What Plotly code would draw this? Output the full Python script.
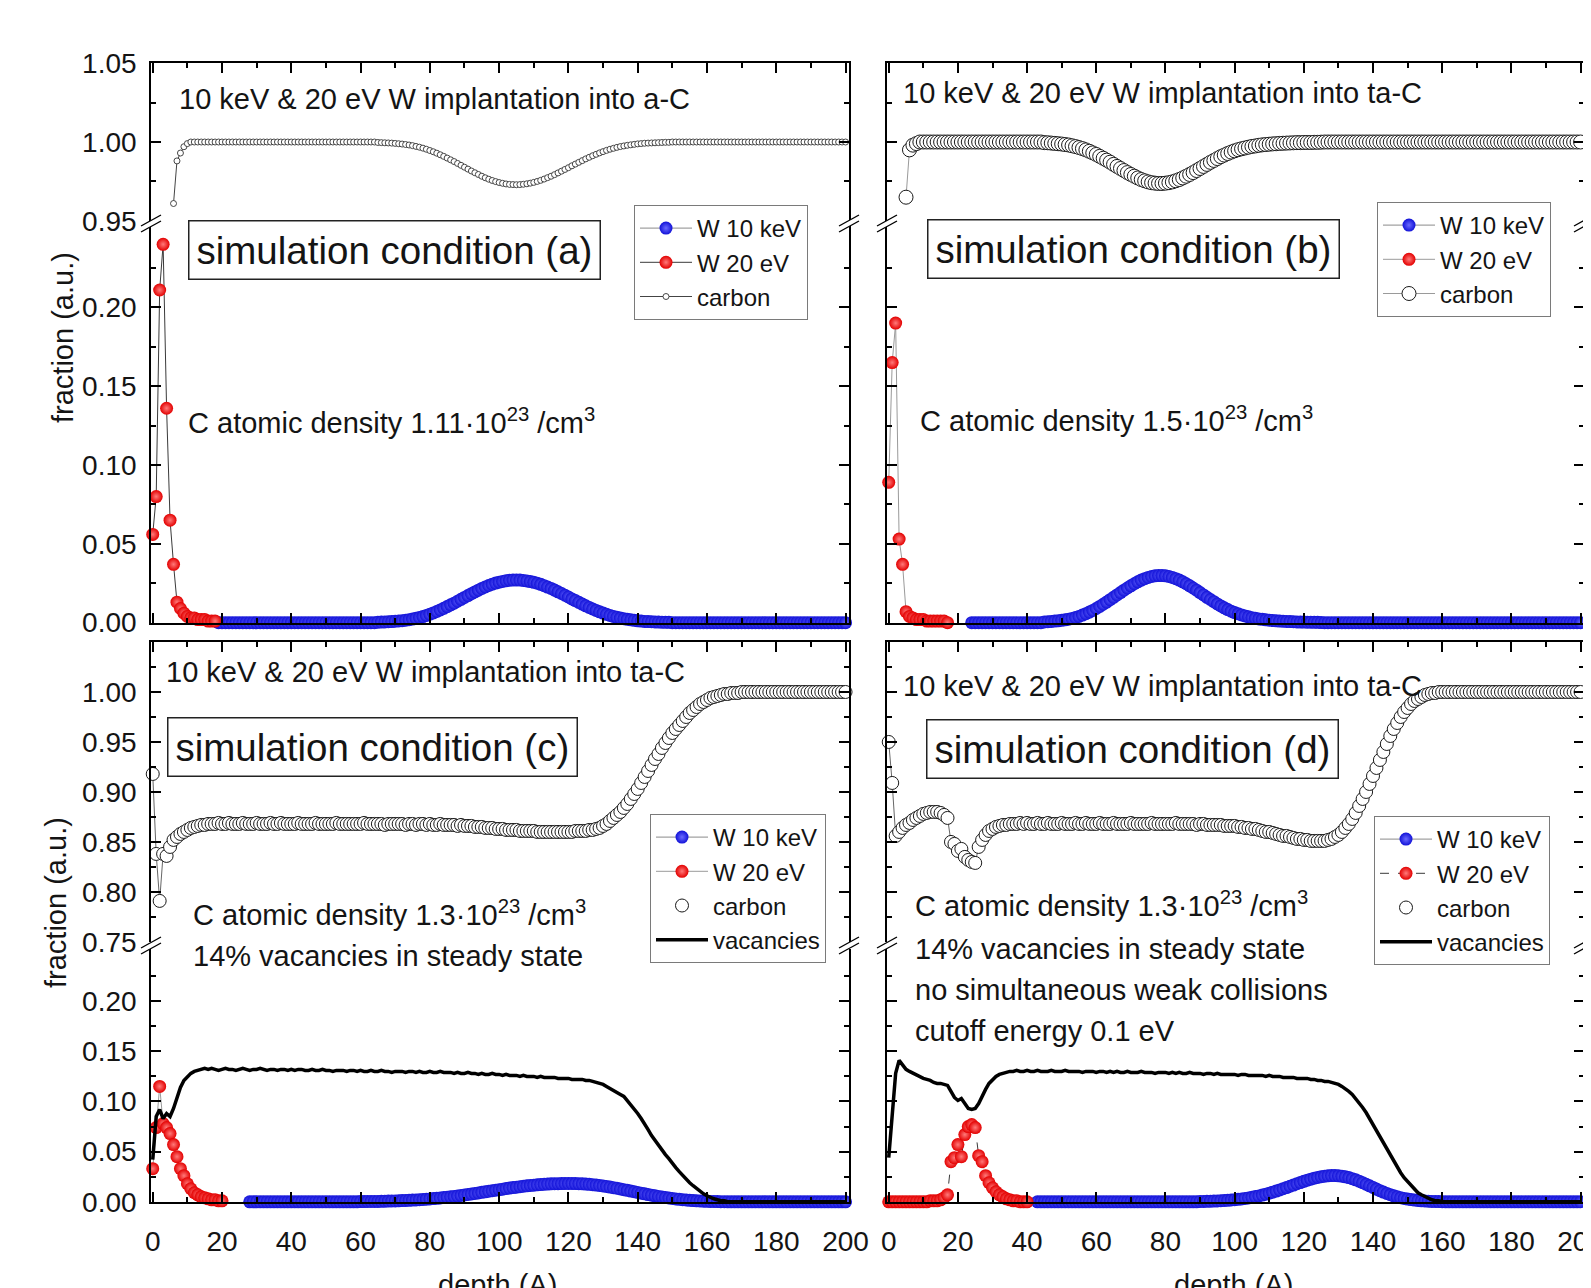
import numpy as np
import plotly.graph_objects as go

# ---------------------------------------------------------------------------
# DATA  (fractions; depth bins of 1 Angstrom)
# ---------------------------------------------------------------------------
# ----- panel (a) -----
A_W20_START = 0
A_W20 = [0.056, 0.080, 0.211, 0.240, 0.136, 0.065, 0.037, 0.013, 0.009, 0.006,
         0.004, 0.003, 0.003, 0.002, 0.002, 0.002, 0.001, 0.001, 0.001]
A_W10_START = 19
A_W10 = [0, 0, 0, 0, 0, 0, 0, 0, 0, 0,
         0, 0, 0, 0, 0, 0, 0, 0, 0, 0,
         0, 0, 0, 0, 0, 0, 0, 0, 0, 0,
         0, 0, 0, 0, 0, 0, 0, 0, 0, 0,
         0, 0, 0, 0, 0, 0,
         0.0003, 0.0004, 0.0005, 0.0006, 0.0007, 0.0009, 0.0011, 0.0013, 0.0016, 0.0019,
         0.0023, 0.0028, 0.0033, 0.0039, 0.0046, 0.0054, 0.0062, 0.0071, 0.0081, 0.0091,
         0.0102, 0.0113, 0.0124, 0.0136, 0.0148, 0.0160, 0.0172, 0.0184, 0.0195, 0.0206,
         0.0217, 0.0227, 0.0236, 0.0244, 0.0251, 0.0257, 0.0262, 0.0266, 0.0269, 0.0270,
         0.0271, 0.0270, 0.0268, 0.0265, 0.0261, 0.0256, 0.0250, 0.0243, 0.0235, 0.0226,
         0.0217, 0.0207, 0.0196, 0.0185, 0.0174, 0.0163, 0.0151, 0.0140, 0.0129, 0.0118,
         0.0107, 0.0097, 0.0087, 0.0078, 0.0069, 0.0061, 0.0053, 0.0046, 0.0040, 0.0034,
         0.0029, 0.0025, 0.0021, 0.0018, 0.0015, 0.0012, 0.0010, 0.0008, 0.0007, 0.0006,
         0.0005, 0.0004, 0.0003, 0.0002, 0.0002,
         0, 0, 0, 0, 0, 0, 0, 0, 0, 0,
         0, 0, 0, 0, 0, 0, 0, 0, 0, 0,
         0, 0, 0, 0, 0, 0, 0, 0, 0, 0,
         0, 0, 0, 0, 0, 0, 0, 0, 0, 0,
         0, 0, 0, 0, 0, 0, 0, 0, 0, 0, 0]
A_C_START = 6
A_CARBON = [0.961, 0.988, 0.993, 0.997, 0.999,
            1, 1, 1, 1, 1, 1, 1, 1, 1, 1,
            1, 1, 1, 1, 1, 1, 1, 1, 1, 1,
            1, 1, 1, 1, 1, 1, 1, 1, 1, 1,
            1, 1, 1, 1, 1, 1, 1, 1, 1, 1,
            1, 1, 1, 1, 1, 1, 1, 1, 1, 1,
            1, 1, 1, 1,
            0.9997, 0.9996, 0.9995, 0.9994, 0.9993, 0.9991, 0.9989, 0.9987, 0.9984, 0.9981,
            0.9977, 0.9972, 0.9967, 0.9961, 0.9954, 0.9946, 0.9938, 0.9929, 0.9919, 0.9909,
            0.9898, 0.9887, 0.9876, 0.9864, 0.9852, 0.9840, 0.9828, 0.9816, 0.9805, 0.9794,
            0.9783, 0.9773, 0.9764, 0.9756, 0.9749, 0.9743, 0.9738, 0.9734, 0.9731, 0.9730,
            0.9729, 0.9730, 0.9732, 0.9735, 0.9739, 0.9744, 0.9750, 0.9757, 0.9765, 0.9774,
            0.9783, 0.9793, 0.9804, 0.9815, 0.9826, 0.9837, 0.9849, 0.9860, 0.9871, 0.9882,
            0.9893, 0.9903, 0.9913, 0.9922, 0.9931, 0.9939, 0.9947, 0.9954, 0.9960, 0.9966,
            0.9971, 0.9975, 0.9979, 0.9982, 0.9985, 0.9988, 0.9990, 0.9992, 0.9993, 0.9994,
            0.9995, 0.9996, 0.9997, 0.9998, 0.9998,
            1, 1, 1, 1, 1, 1, 1, 1, 1, 1,
            1, 1, 1, 1, 1, 1, 1, 1, 1, 1,
            1, 1, 1, 1, 1, 1, 1, 1, 1, 1,
            1, 1, 1, 1, 1, 1, 1, 1, 1, 1,
            1, 1, 1, 1, 1, 1, 1, 1, 1, 1, 1]

# ----- panel (b) -----
B_W20_START = 0
B_W20 = [0.089, 0.165, 0.190, 0.053, 0.037, 0.007, 0.004, 0.003, 0.002, 0.002,
         0.002, 0.001, 0.001, 0.001, 0.001, 0.001, 0.001, 0.000]
B_W10_START = 24
B_W10 = [0, 0, 0, 0, 0, 0, 0, 0, 0, 0,
         0, 0, 0, 0, 0, 0, 0, 0, 0, 0, 0,
         0.0005, 0.0006, 0.0008, 0.0010, 0.0012, 0.0015, 0.0018, 0.0022, 0.0027, 0.0033,
         0.0040, 0.0048, 0.0057, 0.0067, 0.0078, 0.0090, 0.0103, 0.0117, 0.0131, 0.0146,
         0.0161, 0.0176, 0.0191, 0.0206, 0.0220, 0.0234, 0.0247, 0.0259, 0.0270, 0.0279,
         0.0287, 0.0293, 0.0297, 0.0299, 0.0299, 0.0297, 0.0293, 0.0287, 0.0279, 0.0270,
         0.0259, 0.0247, 0.0234, 0.0220, 0.0206, 0.0191, 0.0176, 0.0161, 0.0147, 0.0133,
         0.0119, 0.0106, 0.0094, 0.0083, 0.0073, 0.0064, 0.0056, 0.0049, 0.0043, 0.0037,
         0.0032, 0.0028, 0.0024, 0.0021, 0.0018, 0.0016, 0.0014, 0.0012, 0.0010, 0.0009,
         0.0008, 0.0007, 0.0006, 0.0005, 0.0004, 0.0004, 0.0003, 0.0003, 0.0002, 0.0002,
         0.0001,
         0, 0, 0, 0, 0, 0, 0, 0, 0, 0,
         0, 0, 0, 0, 0, 0, 0, 0, 0, 0,
         0, 0, 0, 0, 0, 0, 0, 0, 0, 0,
         0, 0, 0, 0, 0, 0, 0, 0, 0, 0,
         0, 0, 0, 0, 0, 0, 0, 0, 0, 0,
         0, 0, 0, 0, 0, 0, 0, 0, 0, 0,
         0, 0, 0, 0, 0, 0, 0, 0, 0, 0,
         0, 0, 0, 0, 0]
B_C_START = 5
B_CARBON = [0.965, 0.995, 0.998, 0.999,
            1, 1, 1, 1, 1, 1, 1, 1, 1, 1,
            1, 1, 1, 1, 1, 1, 1, 1, 1, 1,
            1, 1, 1, 1, 1, 1, 1, 1, 1, 1,
            1, 1, 1, 1, 1, 1,
            0.9996, 0.9995, 0.9993, 0.9991, 0.9989, 0.9987, 0.9984, 0.9981, 0.9976, 0.9971,
            0.9965, 0.9958, 0.9950, 0.9941, 0.9931, 0.9921, 0.9909, 0.9897, 0.9885, 0.9872,
            0.9858, 0.9845, 0.9832, 0.9819, 0.9806, 0.9794, 0.9783, 0.9772, 0.9762, 0.9754,
            0.9747, 0.9742, 0.9739, 0.9737, 0.9737, 0.9739, 0.9742, 0.9747, 0.9754, 0.9762,
            0.9772, 0.9783, 0.9794, 0.9806, 0.9819, 0.9832, 0.9845, 0.9858, 0.9871, 0.9883,
            0.9895, 0.9907, 0.9917, 0.9927, 0.9936, 0.9944, 0.9951, 0.9957, 0.9962, 0.9967,
            0.9972, 0.9975, 0.9979, 0.9982, 0.9984, 0.9986, 0.9988, 0.9989, 0.9991, 0.9992,
            0.9993, 0.9994, 0.9995, 0.9996, 0.9996, 0.9997, 0.9997, 0.9997, 0.9998, 0.9998,
            0.9999,
            1, 1, 1, 1, 1, 1, 1, 1, 1, 1,
            1, 1, 1, 1, 1, 1, 1, 1, 1, 1,
            1, 1, 1, 1, 1, 1, 1, 1, 1, 1,
            1, 1, 1, 1, 1, 1, 1, 1, 1, 1,
            1, 1, 1, 1, 1, 1, 1, 1, 1, 1,
            1, 1, 1, 1, 1, 1, 1, 1, 1, 1,
            1, 1, 1, 1, 1, 1, 1, 1, 1, 1,
            1, 1, 1, 1, 1]

# ----- panel (c) -----
C_W20_START = 0
C_W20 = [0.033, 0.074, 0.115, 0.078, 0.074, 0.068, 0.057, 0.045, 0.033, 0.026,
         0.018, 0.013, 0.009, 0.007, 0.005, 0.004, 0.003, 0.002, 0.002, 0.001, 0.001]
C_W10_START = 28
C_W10 = [0, 0, 0, 0, 0, 0, 0, 0, 0, 0,
         0, 0, 0, 0, 0, 0, 0, 0, 0, 0,
         0, 0, 0, 0, 0, 0, 0, 0, 0, 0, 0, 0,
         0.0002, 0.0002, 0.0003, 0.0003, 0.0004, 0.0004, 0.0005, 0.0006, 0.0007, 0.0008,
         0.0009, 0.0010, 0.0012, 0.0013, 0.0015, 0.0017, 0.0019, 0.0021, 0.0023, 0.0026,
         0.0029, 0.0032, 0.0035, 0.0038, 0.0042, 0.0046, 0.0050, 0.0054, 0.0058, 0.0063,
         0.0068, 0.0073, 0.0078, 0.0083, 0.0088, 0.0094, 0.0099, 0.0105, 0.0110, 0.0116,
         0.0121, 0.0126, 0.0132, 0.0137, 0.0142, 0.0146, 0.0151, 0.0155, 0.0159, 0.0163,
         0.0166, 0.0169, 0.0172, 0.0175, 0.0177, 0.0179, 0.0180, 0.0181, 0.0182, 0.0183,
         0.0183, 0.0183, 0.0182, 0.0181, 0.0179, 0.0177, 0.0174, 0.0171, 0.0167, 0.0163,
         0.0158, 0.0153, 0.0147, 0.0141, 0.0135, 0.0128, 0.0121, 0.0114, 0.0107, 0.0100,
         0.0093, 0.0086, 0.0079, 0.0072, 0.0066, 0.0060, 0.0054, 0.0048, 0.0043, 0.0038,
         0.0033, 0.0029, 0.0025, 0.0021, 0.0018, 0.0015, 0.0012, 0.0010, 0.0008, 0.0006,
         0.0005, 0.0004, 0.0003, 0.0002, 0.0001, 0.0001,
         0, 0, 0, 0, 0, 0, 0, 0, 0, 0,
         0, 0, 0, 0, 0, 0, 0, 0, 0, 0,
         0, 0, 0, 0, 0, 0, 0, 0, 0, 0,
         0, 0, 0, 0, 0]
C_VAC_START = 0
C_VAC = [0.042, 0.085, 0.092, 0.083, 0.088, 0.085, 0.093, 0.104, 0.114, 0.121,
         0.125, 0.128, 0.130, 0.131, 0.132,
         0.133, 0.132, 0.133, 0.132, 0.131, 0.132, 0.133, 0.132, 0.132, 0.131,
         0.132, 0.133, 0.132, 0.131, 0.132, 0.132, 0.133, 0.132, 0.131, 0.132,
         0.132, 0.131, 0.132, 0.132, 0.131, 0.132, 0.131, 0.132, 0.132, 0.131,
         0.131, 0.132, 0.131, 0.131, 0.132, 0.131, 0.131, 0.130, 0.131, 0.131,
         0.131, 0.130, 0.131, 0.131, 0.130, 0.131, 0.130, 0.130, 0.131, 0.130,
         0.130, 0.131, 0.130, 0.130, 0.129, 0.130, 0.130, 0.130, 0.129, 0.130,
         0.130, 0.129, 0.130, 0.129, 0.129, 0.130, 0.129, 0.129, 0.130, 0.129,
         0.129, 0.129, 0.128, 0.129, 0.128, 0.128, 0.129, 0.128, 0.128, 0.127,
         0.128, 0.127, 0.127, 0.128, 0.127, 0.127, 0.126, 0.127, 0.126, 0.126,
         0.126, 0.125, 0.126, 0.125, 0.125, 0.125, 0.124, 0.125, 0.124, 0.124,
         0.124, 0.124, 0.123, 0.123, 0.123, 0.123, 0.122, 0.122, 0.122, 0.122,
         0.121, 0.121, 0.120, 0.119, 0.118, 0.117, 0.115, 0.113, 0.111, 0.108,
         0.107, 0.105, 0.101, 0.097, 0.092, 0.088, 0.083, 0.078, 0.072, 0.066,
         0.061, 0.057, 0.052, 0.047, 0.043, 0.038, 0.034, 0.030, 0.026, 0.022,
         0.019, 0.016, 0.013, 0.010, 0.008, 0.006, 0.004, 0.003, 0.002, 0.001,
         0.001,
         0, 0, 0, 0, 0, 0, 0, 0, 0, 0,
         0, 0, 0, 0, 0, 0, 0, 0, 0, 0,
         0, 0, 0, 0, 0, 0, 0, 0, 0, 0,
         0, 0, 0, 0, 0]
C_C_START = 0
C_CARBON = [0.918, 0.838, 0.791, 0.838, 0.836, 0.845, 0.852, 0.855, 0.858, 0.860,
            0.862, 0.864, 0.865, 0.866, 0.867,
            0.867, 0.868, 0.868, 0.868, 0.869, 0.868, 0.868, 0.869, 0.868, 0.868,
            0.868, 0.869, 0.868, 0.868, 0.868, 0.869, 0.868, 0.868, 0.868, 0.869,
            0.868, 0.868, 0.869, 0.868, 0.868, 0.868, 0.868, 0.869, 0.868, 0.868,
            0.868, 0.868, 0.869, 0.868, 0.868, 0.868, 0.868, 0.868, 0.869, 0.868,
            0.868, 0.868, 0.868, 0.868, 0.868, 0.868, 0.869, 0.868, 0.868, 0.868,
            0.868, 0.868, 0.867, 0.868, 0.868, 0.868, 0.868, 0.868, 0.867, 0.868,
            0.868, 0.867, 0.868, 0.868, 0.867, 0.868, 0.867, 0.867, 0.868, 0.867,
            0.867, 0.867, 0.867, 0.866, 0.867, 0.866, 0.866, 0.866, 0.865, 0.865,
            0.865, 0.864, 0.864, 0.864, 0.863, 0.863, 0.863, 0.862, 0.862, 0.862,
            0.862, 0.861, 0.861, 0.861, 0.861, 0.861, 0.860, 0.860, 0.860, 0.860,
            0.860, 0.860, 0.860, 0.860, 0.860, 0.860, 0.860, 0.861, 0.861, 0.861,
            0.861, 0.862, 0.862, 0.863, 0.864, 0.866, 0.868, 0.871, 0.874, 0.877,
            0.880, 0.884, 0.888, 0.893, 0.898, 0.903, 0.909, 0.915, 0.921, 0.927,
            0.933, 0.938, 0.944, 0.949, 0.954, 0.959, 0.963, 0.967, 0.971, 0.975,
            0.979, 0.982, 0.985, 0.988, 0.990, 0.992, 0.994, 0.995, 0.996, 0.997,
            0.998, 0.998, 0.999, 0.999, 0.999, 1, 1, 1, 1, 1,
            1, 1, 1, 1, 1, 1, 1, 1, 1, 1,
            1, 1, 1, 1, 1, 1, 1, 1, 1, 1,
            1, 1, 1, 1, 1, 1]

# ----- panel (d) -----
D_W20_START = 0
D_W20 = [0.000, 0.000, 0.000, 0.000, 0.000, 0.000, 0.000, 0.000, 0.000, 0.000,
         0.000, 0.000, 0.001, 0.001, 0.001, 0.002,
         0.004, 0.007, 0.040, 0.044, 0.057, 0.045, 0.067, 0.075, 0.077, 0.074,
         0.046, 0.040, 0.026, 0.019, 0.014, 0.010, 0.007, 0.005, 0.003, 0.002,
         0.001, 0.001, 0.000, 0.000, 0.000]
D_W10_START = 43
D_W10 = [0, 0, 0, 0, 0, 0, 0, 0, 0, 0,
         0, 0, 0, 0, 0, 0, 0, 0, 0, 0,
         0, 0, 0, 0, 0, 0, 0, 0, 0, 0,
         0, 0, 0, 0, 0, 0, 0, 0, 0, 0,
         0, 0, 0, 0, 0, 0, 0,
         0.0003, 0.0004, 0.0005, 0.0006, 0.0007, 0.0009, 0.0011, 0.0013, 0.0015, 0.0018,
         0.0021, 0.0025, 0.0029, 0.0034, 0.0039, 0.0045, 0.0052, 0.0059, 0.0067, 0.0076,
         0.0086, 0.0096, 0.0107, 0.0118, 0.0130, 0.0142, 0.0155, 0.0167, 0.0180, 0.0192,
         0.0204, 0.0215, 0.0226, 0.0235, 0.0243, 0.0250, 0.0255, 0.0259, 0.0261, 0.0261,
         0.0259, 0.0255, 0.0249, 0.0241, 0.0231, 0.0219, 0.0206, 0.0191, 0.0175, 0.0159,
         0.0143, 0.0127, 0.0111, 0.0097, 0.0083, 0.0071, 0.0060, 0.0050, 0.0041, 0.0034,
         0.0027, 0.0022, 0.0017, 0.0013, 0.0010, 0.0008, 0.0006, 0.0004, 0.0003, 0.0002,
         0.0001,
         0, 0, 0, 0, 0, 0, 0, 0, 0, 0,
         0, 0, 0, 0, 0, 0, 0, 0, 0, 0,
         0, 0, 0, 0, 0, 0, 0, 0, 0, 0,
         0, 0, 0, 0, 0, 0, 0, 0, 0, 0]
D_VAC_START = 0
D_VAC = [0.044, 0.092, 0.128, 0.141, 0.137, 0.132, 0.130, 0.128, 0.126, 0.125,
         0.123, 0.122, 0.121, 0.119, 0.118,
         0.118, 0.117, 0.116, 0.110, 0.104, 0.101, 0.103, 0.098, 0.093, 0.092,
         0.093, 0.098, 0.106, 0.112, 0.118, 0.122, 0.125, 0.127, 0.128, 0.129,
         0.130, 0.130, 0.131, 0.130, 0.130, 0.131, 0.130, 0.130, 0.131, 0.130,
         0.130, 0.130, 0.131, 0.130, 0.130, 0.130, 0.131, 0.130, 0.130, 0.130,
         0.130, 0.129, 0.130, 0.130, 0.130, 0.129, 0.130, 0.130, 0.129, 0.130,
         0.129, 0.130, 0.129, 0.129, 0.130, 0.129, 0.129, 0.129, 0.130, 0.129,
         0.129, 0.129, 0.128, 0.129, 0.129, 0.129, 0.128, 0.129, 0.128, 0.129,
         0.128, 0.128, 0.129, 0.128, 0.128, 0.128, 0.127, 0.128, 0.128, 0.127,
         0.128, 0.127, 0.127, 0.127, 0.127, 0.127, 0.126, 0.127, 0.127, 0.126,
         0.126, 0.126, 0.126, 0.126, 0.125, 0.126, 0.125, 0.125, 0.125, 0.124,
         0.124, 0.124, 0.124, 0.123, 0.123, 0.123, 0.123, 0.122, 0.122, 0.121,
         0.121, 0.120, 0.120, 0.119, 0.118, 0.117, 0.115, 0.113, 0.110, 0.107,
         0.103, 0.099, 0.094, 0.089, 0.083, 0.077, 0.071, 0.064, 0.058, 0.052,
         0.046, 0.040, 0.034, 0.029, 0.024, 0.020, 0.016, 0.012, 0.009, 0.007,
         0.005, 0.003, 0.002, 0.001, 0.001, 0, 0, 0, 0, 0,
         0, 0, 0, 0, 0, 0, 0, 0, 0, 0,
         0, 0, 0, 0, 0, 0, 0, 0, 0, 0,
         0, 0, 0, 0, 0, 0, 0, 0, 0, 0,
         0, 0, 0, 0, 0, 0]
D_C_START = 0
D_CARBON = [0.950, 0.909, 0.856, 0.860, 0.864, 0.867, 0.869, 0.872, 0.874, 0.876,
            0.878, 0.879, 0.880, 0.880, 0.880, 0.879, 0.877, 0.874, 0.850, 0.848,
            0.841, 0.843, 0.835, 0.832, 0.830, 0.829, 0.845, 0.852, 0.857, 0.861,
            0.863, 0.865, 0.866, 0.867, 0.867, 0.868, 0.868, 0.868, 0.869, 0.868,
            0.869, 0.868, 0.868, 0.869, 0.868, 0.868, 0.869, 0.868, 0.868, 0.868,
            0.869, 0.868, 0.868, 0.868, 0.869, 0.868, 0.868, 0.869, 0.868, 0.868,
            0.868, 0.869, 0.868, 0.868, 0.868, 0.869, 0.868, 0.868, 0.868, 0.868,
            0.869, 0.868, 0.868, 0.868, 0.868, 0.868, 0.869, 0.868, 0.868, 0.868,
            0.868, 0.868, 0.868, 0.869, 0.868, 0.868, 0.868, 0.868, 0.868, 0.867,
            0.868, 0.868, 0.867, 0.867, 0.867, 0.867, 0.867, 0.866, 0.866, 0.866,
            0.866, 0.865, 0.865, 0.864, 0.864, 0.863, 0.863, 0.862, 0.861, 0.860,
            0.860, 0.859, 0.858, 0.857, 0.856, 0.856, 0.855, 0.854, 0.853, 0.853,
            0.852, 0.852, 0.851, 0.851, 0.851, 0.851, 0.851, 0.852, 0.853, 0.855,
            0.857, 0.860, 0.864, 0.868, 0.873, 0.879, 0.886, 0.893, 0.900, 0.908,
            0.916, 0.924, 0.932, 0.940, 0.948, 0.956, 0.963, 0.969, 0.975, 0.980,
            0.984, 0.988, 0.991, 0.993, 0.995, 0.997, 0.998, 0.999, 0.999, 1,
            1, 1, 1, 1, 1, 1, 1, 1, 1, 1,
            1, 1, 1, 1, 1, 1, 1, 1, 1, 1,
            1, 1, 1, 1, 1, 1, 1, 1, 1, 1,
            1, 1, 1, 1, 1, 1, 1, 1, 1, 1, 1]

Y_UPPER_TICKS_AB = [0.95, 1.00, 1.05]
Y_UPPER_TICKS_CD = [0.75, 0.80, 0.85, 0.90, 0.95, 1.00]
Y_LOWER_TICKS = [0.00, 0.05, 0.10, 0.15, 0.20]
X_TICKS = [0, 20, 40, 60, 80, 100, 120, 140, 160, 180, 200]

# ---------------------------------------------------------------------------
# LAYOUT HELPERS (screen pixel -> paper; the page body adds an 8 px offset)
# ---------------------------------------------------------------------------
WPX, HPX = 1591, 1288
OFF = 8
FONT = "Liberation Sans, Arial, Helvetica, sans-serif"
INK = "#141414"


def fx(p):
    return (p - OFF) / WPX


def fy(p):
    return 1 - (p - OFF) / HPX


def depth(start, vals):
    return np.arange(start, start + len(vals))


COL_L = (151, 849)
COL_R = (887, 1584)
ROW_TOP_UP, ROW_TOP_LO = (63, 221), (226, 623)
ROW_BOT_UP, ROW_BOT_LO = (642, 942), (949, 1202)

panels = [
    dict(col=COL_L, up=ROW_TOP_UP, lo=ROW_TOP_LO, up_rng=[0.9499, 1.0501],
         up_ticks=Y_UPPER_TICKS_AB, up_minor=[0.975, 1.025], lo_rng=[-0.0002, 0.2516],
         ylab=True, xlab=False, leg="legend", legpos=(634, 205), style="a",
         w10=(A_W10_START, A_W10), w20=(A_W20_START, A_W20), car=(A_C_START, A_CARBON), vac=None),
    dict(col=COL_R, up=ROW_TOP_UP, lo=ROW_TOP_LO, up_rng=[0.9499, 1.0501],
         up_ticks=Y_UPPER_TICKS_AB, up_minor=[0.975, 1.025], lo_rng=[-0.0002, 0.2516],
         ylab=False, xlab=False, leg="legend2", legpos=(1377, 202), style="b",
         w10=(B_W10_START, B_W10), w20=(B_W20_START, B_W20), car=(B_C_START, B_CARBON), vac=None),
    dict(col=COL_L, up=ROW_BOT_UP, lo=ROW_BOT_LO, up_rng=[0.7499, 1.05],
         up_ticks=Y_UPPER_TICKS_CD, up_minor=[0.775, 0.825, 0.875, 0.925, 0.975, 1.025],
         lo_rng=[-0.0002, 0.252], ylab=True, xlab=True, leg="legend3", legpos=(650, 814), style="c",
         w10=(C_W10_START, C_W10), w20=(C_W20_START, C_W20), car=(C_C_START, C_CARBON),
         vac=(C_VAC_START, C_VAC)),
    dict(col=COL_R, up=ROW_BOT_UP, lo=ROW_BOT_LO, up_rng=[0.7499, 1.05],
         up_ticks=Y_UPPER_TICKS_CD, up_minor=[0.775, 0.825, 0.875, 0.925, 0.975, 1.025],
         lo_rng=[-0.0002, 0.252], ylab=False, xlab=True, leg="legend4", legpos=(1374, 816), style="d",
         w10=(D_W10_START, D_W10), w20=(D_W20_START, D_W20), car=(D_C_START, D_CARBON),
         vac=(D_VAC_START, D_VAC)),
]

fig = go.Figure()
layout = dict(
    width=WPX, height=HPX, margin=dict(l=0, r=0, t=0, b=0, pad=0, autoexpand=False),
    paper_bgcolor="white", plot_bgcolor="rgba(0,0,0,0)",
    font=dict(family=FONT, color=INK, size=28),
)

LINE_W = 1.6
TICKFONT = dict(family=FONT, size=28, color=INK)

axis_n = 0
for p in panels:
    n_up = axis_n + 1
    n_lo = axis_n + 2
    axis_n += 2
    s_up = "" if n_up == 1 else str(n_up)
    s_lo = str(n_lo)
    xdom = [fx(p["col"][0]), fx(p["col"][1])]

    xcommon = dict(range=[-0.5, 201], domain=xdom, showline=True, linecolor="black",
                   linewidth=LINE_W, ticks="inside", ticklen=10, tickwidth=LINE_W,
                   tickcolor="black", tickmode="array", tickvals=X_TICKS, automargin=False,
                   ticklabeloverflow="allow",
                   minor=dict(tickmode="array", tickvals=[10, 30, 50, 70, 90, 110, 130, 150, 170, 190],
                              ticks="inside", ticklen=5, tickwidth=LINE_W, tickcolor="black",
                              showgrid=False),
                   showgrid=False, zeroline=False, mirror=False, tickfont=TICKFONT)
    layout["xaxis" + s_up] = dict(xcommon, anchor="y" + s_up, side="top", showticklabels=False)
    layout["xaxis" + s_lo] = dict(xcommon, anchor="y" + s_lo, side="bottom",
                                 showticklabels=p["xlab"], ticklabelstandoff=14)

    ycommon = dict(showline=True, linecolor="black", linewidth=LINE_W, mirror="ticks",
                   ticks="inside", ticklen=10, tickwidth=LINE_W, tickcolor="black",
                   showgrid=False, zeroline=False, tickformat=".2f", tickfont=TICKFONT,
                   showticklabels=p["ylab"], ticklabelstandoff=7, tickmode="array",
                   automargin=False, ticklabeloverflow="allow")
    minor_lo = dict(tickmode="array", tickvals=[0.025, 0.075, 0.125, 0.175, 0.225],
                    ticks="inside", ticklen=5, tickwidth=LINE_W, tickcolor="black", showgrid=False)
    minor_up = dict(tickmode="array", tickvals=p["up_minor"],
                    ticks="inside", ticklen=5, tickwidth=LINE_W, tickcolor="black", showgrid=False)
    layout["yaxis" + s_up] = dict(ycommon, anchor="x" + s_up, range=p["up_rng"],
                                 domain=[fy(p["up"][1]), fy(p["up"][0])],
                                 tickvals=p["up_ticks"], minor=minor_up)
    layout["yaxis" + s_lo] = dict(ycommon, anchor="x" + s_lo, range=p["lo_rng"],
                                 domain=[fy(p["lo"][1]), fy(p["lo"][0])],
                                 tickvals=Y_LOWER_TICKS, minor=minor_lo)

    st = p["style"]
    leg = p["leg"]
    # W 10 keV
    x0, v = p["w10"]
    fig.add_trace(go.Scatter(
        x=depth(x0, v), y=v, xaxis="x" + s_lo, yaxis="y" + s_lo, mode="lines+markers",
        name="W 10 keV", legend=leg, legendrank=1, cliponaxis=False,
        line=dict(color="#8a8a8a", width=1),
        marker=dict(size=13, color="#1212d8", gradient=dict(type="radial", color="#6a6aff"),
                    line=dict(width=0))))
    # W 20 eV
    x0, v = p["w20"]
    fig.add_trace(go.Scatter(
        x=depth(x0, v), y=v, xaxis="x" + s_lo, yaxis="y" + s_lo, mode="lines+markers",
        name="W 20 eV", legend=leg, legendrank=2, cliponaxis=False,
        line=dict(color="#3a3a3a" if st in "ad" else "#9a9a9a", width=1,
                  dash="dash" if st == "d" else "solid"),
        marker=dict(size=13, color="#e30000", gradient=dict(type="radial", color="#ff7a7a"),
                    line=dict(width=0))))
    # vacancies
    if p["vac"] is not None:
        x0, v = p["vac"]
        fig.add_trace(go.Scatter(
            x=depth(x0, v), y=v, xaxis="x" + s_lo, yaxis="y" + s_lo, mode="lines",
            name="vacancies", legend=leg, legendrank=4,
            line=dict(color="black", width=3.5)))
    # carbon
    x0, v = p["car"]
    if st == "a":
        fig.add_trace(go.Scatter(
            x=depth(x0, v), y=v, xaxis="x" + s_up, yaxis="y" + s_up, mode="lines+markers",
            name="carbon", legend=leg, legendrank=3, cliponaxis=False,
            line=dict(color="#444444", width=1),
            marker=dict(size=6, color="white", line=dict(color="#333333", width=0.9))))
    elif st == "b":
        fig.add_trace(go.Scatter(
            x=depth(x0, v), y=v, xaxis="x" + s_up, yaxis="y" + s_up, mode="lines+markers",
            name="carbon", legend=leg, legendrank=3, cliponaxis=False,
            line=dict(color="#9a9a9a", width=1),
            marker=dict(size=14, color="white", line=dict(color="#1a1a1a", width=1))))
    else:
        fig.add_trace(go.Scatter(
            x=depth(x0, v), y=v, xaxis="x" + s_up, yaxis="y" + s_up, mode="lines",
            showlegend=False, line=dict(color="#555555", width=0.9)))
        fig.add_trace(go.Scatter(
            x=depth(x0, v), y=v, xaxis="x" + s_up, yaxis="y" + s_up, mode="markers",
            name="carbon", legend=leg, legendrank=3, cliponaxis=False,
            marker=dict(size=13, color="white", line=dict(color="#1a1a1a", width=1))))

    layout[leg] = dict(x=fx(p["legpos"][0]), y=fy(p["legpos"][1]), xanchor="left", yanchor="top",
                       bgcolor="white", bordercolor="#7a7a7a", borderwidth=1,
                       font=dict(family=FONT, size=24, color=INK), itemwidth=52,
                       tracegroupgap=0, traceorder="normal")

# ---------------------------------------------------------------------------
# annotations
# ---------------------------------------------------------------------------
ann = []
titles = [("10 keV &amp; 20 eV W implantation into a-C", 177, 99.5),
          ("10 keV &amp; 20 eV W implantation into ta-C", 901, 93.5),
          ("10 keV &amp; 20 eV W implantation into ta-C", 164, 672),
          ("10 keV &amp; 20 eV W implantation into ta-C", 901, 686)]
for t, x, y in titles:
    ann.append(dict(text=t, x=fx(x), y=fy(y), xref="paper", yref="paper", xanchor="left",
                    yanchor="middle", showarrow=False, font=dict(size=29, family=FONT, color=INK),
                    bgcolor="rgba(255,255,255,0)"))

boxes = [("simulation condition (a)", 394, 250.5), ("simulation condition (b)", 1133, 248.5),
         ("simulation condition (c)", 372, 747), ("simulation condition (d)", 1132, 748.5)]
for t, x, y in boxes:
    ann.append(dict(text=t, x=fx(x), y=fy(y), xref="paper", yref="paper", xanchor="center",
                    yanchor="middle", showarrow=False, font=dict(size=38.5, family=FONT, color=INK),
                    bordercolor="#222222", borderwidth=1.5, borderpad=7, bgcolor="white"))

notes = [("C atomic density 1.11·10<sup>23</sup> /cm<sup>3</sup>", 186, 421),
         ("C atomic density 1.5·10<sup>23</sup> /cm<sup>3</sup>", 918, 419),
         ("C atomic density 1.3·10<sup>23</sup> /cm<sup>3</sup>", 191, 913),
         ("14% vacancies in steady state", 191, 956),
         ("C atomic density 1.3·10<sup>23</sup> /cm<sup>3</sup>", 913, 904),
         ("14% vacancies in steady state", 913, 949),
         ("no simultaneous weak collisions", 913, 990),
         ("cutoff energy 0.1 eV", 913, 1031)]
for t, x, y in notes:
    ann.append(dict(text=t, x=fx(x), y=fy(y), xref="paper", yref="paper", xanchor="left",
                    yanchor="middle", showarrow=False, font=dict(size=29, family=FONT, color=INK)))

for x, y in [(63, 338), (56, 903)]:
    ann.append(dict(text="fraction (a.u.)", x=fx(x), y=fy(y), xref="paper", yref="paper",
                    xanchor="center", yanchor="middle", textangle=-90, showarrow=False,
                    font=dict(size=29, family=FONT, color=INK)))
for x in [497, 1233]:
    ann.append(dict(text="depth (A)", x=fx(x), y=fy(1267), xref="paper", yref="paper",
                    xanchor="center", yanchor="top", showarrow=False,
                    font=dict(size=29, family=FONT, color=INK)))
layout["annotations"] = ann

# ---------------------------------------------------------------------------
# axis-break marks (decoration)
# ---------------------------------------------------------------------------
shapes = []
for cx in [COL_L[0], COL_L[1], COL_R[0], COL_R[1]]:
    for cy in [(ROW_TOP_UP[1] + ROW_TOP_LO[0]) / 2, (ROW_BOT_UP[1] + ROW_BOT_LO[0]) / 2]:
        shapes.append(dict(type="path", xref="paper", yref="paper",
                           path=("M{:.5f},{:.5f} L{:.5f},{:.5f} L{:.5f},{:.5f} L{:.5f},{:.5f} Z").format(
                               fx(cx - 10), fy(cy + 2.5), fx(cx + 10), fy(cy - 8.5),
                               fx(cx + 10), fy(cy - 2.5), fx(cx - 10), fy(cy + 8.5)),
                           fillcolor="white", line=dict(width=0)))
        for off in (-3.0, 3.0):
            shapes.append(dict(type="line", xref="paper", yref="paper",
                               x0=fx(cx - 10), y0=fy(cy + off + 5.5),
                               x1=fx(cx + 10), y1=fy(cy + off - 5.5),
                               line=dict(color="black", width=1.4)))
layout["shapes"] = shapes

fig.update_layout(**layout)
fig.write_html("out.html")
